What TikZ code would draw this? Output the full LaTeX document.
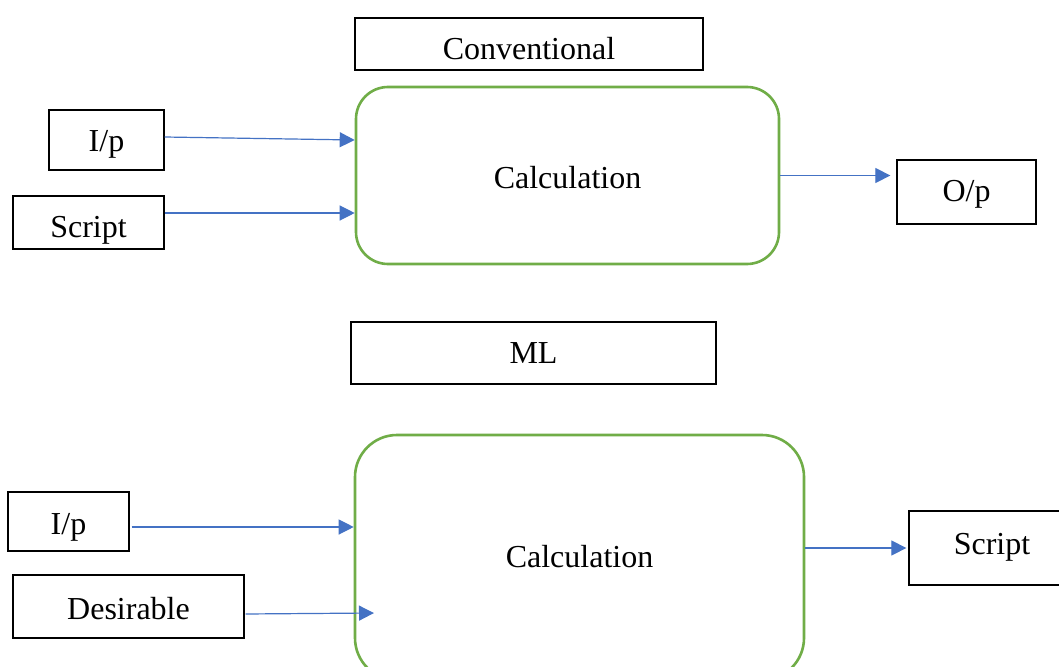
\documentclass[tikz,border=0pt]{standalone}
\usepackage{fontspec}
\setmainfont{Liberation Serif}
\usetikzlibrary{arrows.meta}
\definecolor{flowblue}{HTML}{4472C4}
\definecolor{procgreen}{HTML}{70AD47}
\tikzset{
  % text height sets where the capitals sit inside a box (21pt = centred)
  capc/.style={text height=#1, text depth=0pt},
  capc/.default=21pt,
  box/.style={draw=black, line width=1.3pt, inner sep=0pt, capc, font=\fontsize{32}{36}\selectfont},
  proc/.style={draw=procgreen, line width=2.6pt, rounded corners=32pt, inner sep=0pt, capc, font=\fontsize{32}{36}\selectfont},
  flow/.style={draw=flowblue, line width=1.2pt, -{Triangle[length=15pt,width=15pt]}},
}
\begin{document}
\begin{tikzpicture}[x=1pt,y=-1pt]
\useasboundingbox (0,0) rectangle (1059,666);
\clip (0,0) rectangle (1059,666);
\fill[white] (0,0) rectangle (1059,666);

% conventional flow
\node[box, capc=31pt, minimum width=348pt, minimum height=52pt] (conv) at (529,44) {Conventional};
\node[proc, capc=26pt, minimum width=423pt, minimum height=177pt] (calc1) at (567.5,175.5) {Calculation};
\node[box, capc=23pt, minimum width=115pt, minimum height=60pt] (ip1) at (106.5,140) {I/p};
\node[box, capc=29pt, minimum width=151pt, minimum height=53pt] (scr1) at (88.5,222.5) {Script};
\node[box, capc=18pt, minimum width=139pt, minimum height=64pt] (op) at (966.5,192) {O/p};

\draw[flow] ([yshift=3pt]ip1.east) -- (ip1.east -| calc1.west);
\draw[flow] ([yshift=9.5pt]scr1.east) -- ([yshift=9.5pt]scr1.east -| calc1.west);
\draw[flow, shorten >=6pt] (calc1.east) -- (calc1.east -| op.west);

% machine learning flow
\node[box, capc=21pt, minimum width=365pt, minimum height=62pt] (ml) at (533.5,353) {ML};
\node[proc, capc=19pt, rounded corners=42pt, minimum width=449pt, minimum height=245pt] (calc2) at (579.5,557.5) {Calculation};
\node[box, capc=25pt, minimum width=121pt, minimum height=59pt] (ip2) at (68.5,521.5) {I/p};
\node[box, capc=25pt, minimum width=231pt, minimum height=63pt] (des) at (128.5,606.5) {Desirable};
\node[box, capc=12pt, minimum width=166pt, minimum height=74pt, xshift=-3pt] (scr2) at (995,548) {Script};
\coordinate (desend) at (374,613);

\draw[flow, shorten <=2pt] ([yshift=-5.5pt]ip2.east) -- ([yshift=-5.5pt]ip2.east -| calc2.west);
\draw[flow, shorten <=1pt] ([yshift=-7.5pt]des.east) -- (desend);
\draw[flow, shorten >=2pt] (calc2.east |- scr2.west) -- (scr2.west);
\end{tikzpicture}
\end{document}
